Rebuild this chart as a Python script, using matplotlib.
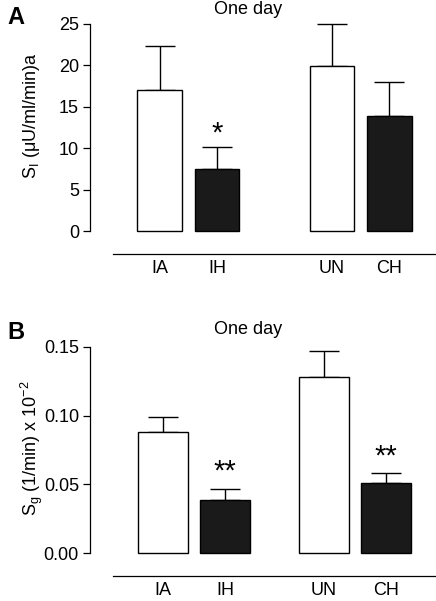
import matplotlib
matplotlib.use("Agg")
import matplotlib.pyplot as plt
import numpy as np

plt.rcParams['font.family'] = ['Liberation Sans', 'DejaVu Sans']
plt.rcParams['font.size'] = 13

groups = ["IA", "IH", "UN", "CH"]
fills = ["white", "#1a1a1a", "white", "#1a1a1a"]

si_mean = [17.0, 7.5, 19.9, 13.9]
si_err = [5.3, 2.7, 5.1, 4.1]
si_stars = ["", "*", "", ""]

sg_mean = [0.088, 0.039, 0.128, 0.051]
sg_err = [0.011, 0.008, 0.019, 0.007]
sg_stars = ["", "**", "", "**"]

W, H = 436, 601
fig = plt.figure(figsize=(W / 100, H / 100), dpi=100)


def px_axes(x0, x1, ytop, ybot):
    return fig.add_axes([x0 / W, 1 - ybot / H, (x1 - x0) / W, (ybot - ytop) / H])


def panel(ax, pos, width, mean, err, stars, yticks, fmt, ylim, xlim,
          base_y, base_x0, star_off, label, label_y):
    ax.bar(pos, mean, width, color=fills, edgecolor="black", linewidth=1.0, zorder=2)
    ax.errorbar(pos, mean, yerr=[np.zeros(4), err], fmt="none", ecolor="black",
                elinewidth=1.0, capsize=11, capthick=1.0, zorder=1)
    for p, m, e, s in zip(pos, mean, err, stars):
        if s:
            ax.text(p, m + e + star_off, s, ha="center", va="center", fontsize=21)
    ax.set_xlim(xlim)
    ax.set_ylim(ylim)
    ax.set_yticks(yticks)
    ax.set_yticklabels([fmt % v for v in yticks])
    ax.set_xticks(pos)
    ax.set_xticklabels(groups)
    for s in ["top", "right"]:
        ax.spines[s].set_visible(False)
    ax.spines["left"].set_bounds(yticks[0], yticks[-1])
    ax.spines["bottom"].set_position(("data", base_y))
    ax.spines["bottom"].set_bounds(base_x0, xlim[1])
    for s in ["left", "bottom"]:
        ax.spines[s].set_linewidth(0.9)
    ax.tick_params(axis="x", length=0, pad=4, labelsize=13)
    ax.tick_params(axis="y", length=5, width=0.9, pad=3, labelsize=13)
    ax.set_ylabel(label, fontsize=13, va="center")
    ax.yaxis.set_label_coords(-0.168, label_y)


# panel A
axA = px_axes(90, 436, 231 - 8.28 * 26, 231 + 8.28 * 3.5)
panel(axA, [0, 1, 3, 4], 0.78, si_mean, si_err, si_stars,
      [0, 5, 10, 15, 20, 25], "%d", (-3.5, 26), (-1.21, 4.81),
      -2.78, -0.81, 1.6, r"S$_\mathregular{I}$ ($\mathregular{\mu}$U/ml/min)a", 0.59)

# panel B
k = 1377.8
axB = px_axes(90, 436, 553.3 - k * 0.155, 553.3 + k * 0.025)
panel(axB, [0, 1, 2.59, 3.59], 0.81, sg_mean, sg_err, sg_stars,
      [0.0, 0.05, 0.10, 0.15], "%.2f", (-0.025, 0.155), (-1.18, 4.40),
      -0.0165, -0.81, 0.012, r"S$_\mathregular{g}$ (1/min) x 10$^\mathregular{-2}$", 0.563)

fig.text(248 / W, 1 - 10 / H, "One day", fontsize=13, ha="center", va="center")
fig.text(248 / W, 1 - 329 / H, "One day", fontsize=13, ha="center", va="center")
fig.text(16 / W, 1 - 18 / H, "A", fontsize=17, fontweight="bold", ha="center", va="center")
fig.text(16 / W, 1 - 333 / H, "B", fontsize=17, fontweight="bold", ha="center", va="center")

fig.savefig("out.png", dpi=100)
